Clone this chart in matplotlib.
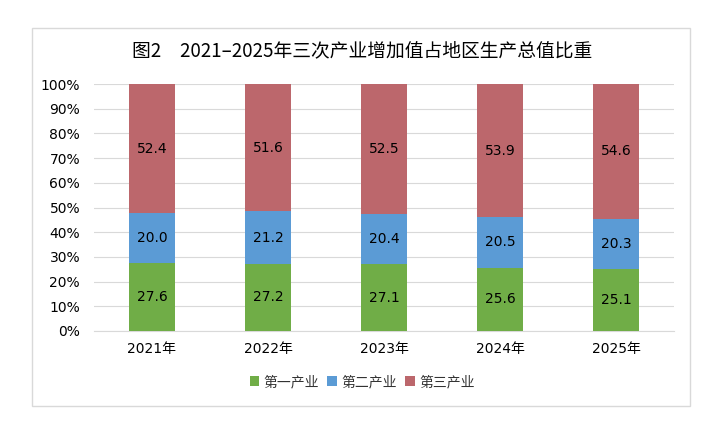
import matplotlib
matplotlib.use("Agg")
import matplotlib.pyplot as plt
from matplotlib.patches import Rectangle
import numpy as np

plt.rcParams['font.family'] = ['Noto Sans CJK SC', 'DejaVu Sans']

title = "图2　2021–2025年三次产业增加值占地区生产总值比重"
years = ["2021年", "2022年", "2023年", "2024年", "2025年"]
primary = [27.6, 27.2, 27.1, 25.6, 25.1]
secondary = [20.0, 21.2, 20.4, 20.5, 20.3]
tertiary = [52.4, 51.6, 52.5, 53.9, 54.6]
series_names = ["第一产业", "第二产业", "第三产业"]
colors = ["#70AD47", "#5B9BD5", "#BC676C"]

W, H = 728, 424
fig = plt.figure(figsize=(W / 100, H / 100), dpi=100)
fig.patches.append(Rectangle((32 / W, 1 - 406 / H), (690 - 32) / W, (406 - 28) / H,
                             transform=fig.transFigure, fill=False,
                             edgecolor="#D9D9D9", linewidth=1))

ax = fig.add_axes([94 / W, 1 - 331 / H, (674 - 94) / W, (331 - 84) / H])
x = np.arange(len(years))
bottoms = np.zeros(len(years))
data = [primary, secondary, tertiary]
for vals, name, c in zip(data, series_names, colors):
    ax.bar(x, vals, bottom=bottoms, width=0.4, color=c, label=name, zorder=3)
    for xi, v, bt in zip(x, vals, bottoms):
        ax.text(xi, bt + v / 2, f"{v:.1f}", ha="center", va="center",
                fontsize=10, color="#000000", family="DejaVu Sans", zorder=4)
    bottoms = bottoms + np.array(vals)

ax.set_xlim(-0.5, len(years) - 0.5)
ax.set_ylim(0, 100)
ax.set_yticks(np.arange(0, 101, 10))
ax.set_yticklabels([f"{v}%" for v in range(0, 101, 10)], family="DejaVu Sans")
ax.set_xticks(x)
ax.set_xticklabels(years, family=["DejaVu Sans", "Noto Sans CJK SC"])
ax.tick_params(axis="both", length=0, labelsize=10, colors="#000000")
ax.tick_params(axis="y", pad=10)
ax.tick_params(axis="x", pad=8)
ax.grid(axis="y", color="#D9D9D9", linewidth=0.8, zorder=0)
for s in ["top", "right", "left"]:
    ax.spines[s].set_visible(False)
ax.spines["bottom"].set_color("#D9D9D9")

fig.text(362 / W, 1 - 51 / H, title, ha="center", va="center", fontsize=13.5, color="#000000")

leg = fig.legend(loc="center", bbox_to_anchor=(362 / W, 1 - 382 / H), ncol=3, frameon=False,
                 fontsize=10, handlelength=0.7, handleheight=0.7, handletextpad=0.3,
                 columnspacing=0.6)
for t in leg.get_texts():
    t.set_color("#333333")

fig.savefig("out.png", dpi=100)
